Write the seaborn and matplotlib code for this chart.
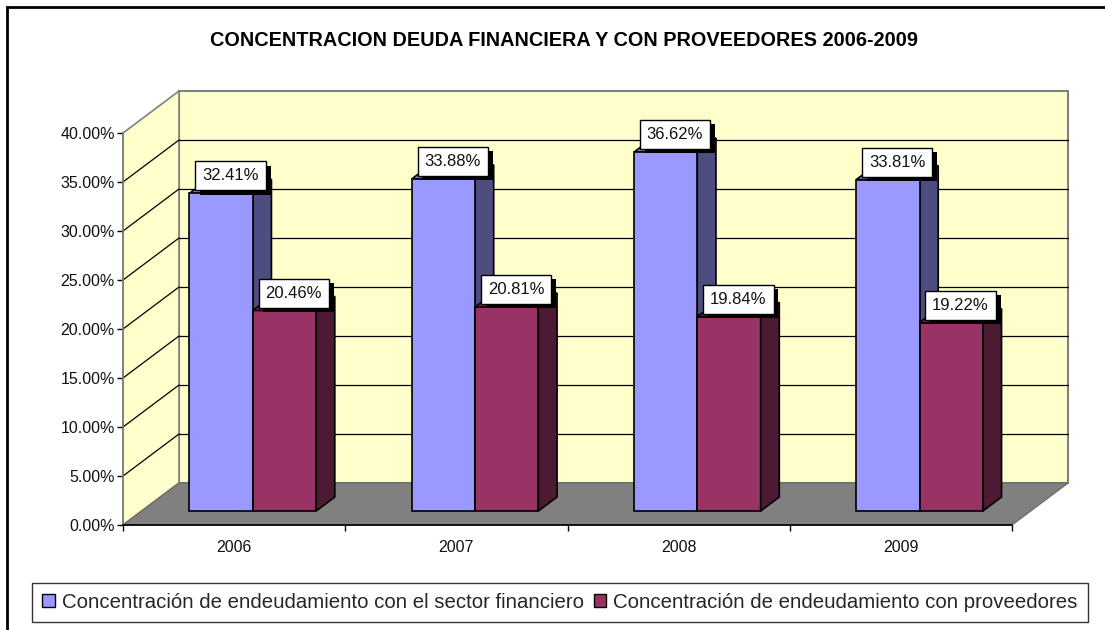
import numpy as np
import pandas as pd
import seaborn as sns
import matplotlib.pyplot as plt
from matplotlib.patches import Polygon, Rectangle, Patch
from matplotlib import patheffects

# ---------------- data ----------------
years = ["2006", "2007", "2008", "2009"]
financiero = [0.3241, 0.3388, 0.3662, 0.3381]
proveedores = [0.2046, 0.2081, 0.1984, 0.1922]
series = ["Concentración de endeudamiento con el sector financiero",
          "Concentración de endeudamiento con proveedores"]
yticks = np.arange(0, 0.4001, 0.05)
title = "CONCENTRACION DEUDA FINANCIERA Y CON PROVEEDORES 2006-2009"

# ---------------- colours ----------------
front_colors = ["#9999FF", "#993366"]
side_colors = ["#4D4D80", "#4D1A33"]
top_colors = ["#7A7ACC", "#7A2952"]
wall_color = "#FFFFCC"
floor_color = "#808080"

sns.set_style("white")
plt.rcParams['font.family'] = ['Liberation Sans', 'DejaVu Sans']

W, H = 1105, 630
fig = plt.figure(figsize=(W / 100, H / 100), dpi=100)
ax_l, ax_r, ax_t, ax_b = 123, 1012, 133, 525
ax = fig.add_axes([ax_l / W, 1 - ax_b / H, (ax_r - ax_l) / W, (ax_b - ax_t) / H])
ax.set_facecolor("none")

# pixel -> data units, for the fake depth
ux = 4.0 / (ax_r - ax_l)
uy = 0.40 / (ax_b - ax_t)
DX, DY = 56 * ux, 42 * uy   # full depth of the box
bx, by = DX / 3, DY / 3     # bars sit a third deep, a third thick

df = pd.DataFrame({"year": years * 2,
                   "valor": financiero + proveedores,
                   "serie": [series[0]] * 4 + [series[1]] * 4})
sns.barplot(data=df, x="year", y="valor", hue="serie", palette=front_colors,
            width=0.57, edgecolor="black", linewidth=1.2, saturation=1,
            legend=False, ax=ax)
ax.set_xlim(-0.5, 3.5)
ax.set_ylim(0, 0.40)
ax.set_xlabel("")
ax.set_ylabel("")

# ---------------- walls and floor ----------------
x0w, x1w = -0.5, 3.5
side = Polygon([(x0w, 0), (x0w, 0.40), (x0w + DX, 0.40 + DY), (x0w + DX, DY)],
               fc=wall_color, ec="#808080", lw=1.2, clip_on=False, zorder=0.5)
back = Polygon([(x0w + DX, DY), (x0w + DX, 0.40 + DY), (x1w + DX, 0.40 + DY), (x1w + DX, DY)],
               fc=wall_color, ec="#808080", lw=1.5, clip_on=False, zorder=0.4)
floor = Polygon([(x0w, 0), (x1w, 0), (x1w + DX, DY), (x0w + DX, DY)],
                fc=floor_color, ec="#6E6E6E", lw=1, clip_on=False, zorder=0.6)
for p in (back, side, floor):
    ax.add_patch(p)

for v in yticks[1:-1]:
    ax.plot([x0w, x0w + DX], [v, v + DY], color="black", lw=0.9, zorder=0.7, clip_on=False)
    ax.plot([x0w + DX, x1w + DX], [v + DY, v + DY], color="black", lw=0.9, zorder=0.7, clip_on=False)

# ---------------- 3D bars ----------------
for k, cont in enumerate(ax.containers):
    for p in cont.patches:
        x0 = p.get_x() + bx
        p.set_x(x0)
        p.set_y(by)
        w, h = p.get_width(), p.get_height()
        p.set_zorder(4)
        side_face = Polygon([(x0 + w, by), (x0 + w, by + h), (x0 + w + bx, 2 * by + h), (x0 + w + bx, 2 * by)],
                            fc=side_colors[k], ec="black", lw=1.2, zorder=3 + 1.5 * k)
        top_face = Polygon([(x0, by + h), (x0 + w, by + h), (x0 + w + bx, 2 * by + h), (x0 + bx, 2 * by + h)],
                           fc=top_colors[k], ec="black", lw=1.2, zorder=3 + 1.5 * k)
        ax.add_patch(side_face)
        ax.add_patch(top_face)
        ann = ax.annotate(f"{h * 100:.2f}%", xy=(x0 + w / 2 + bx / 2, by + h + by / 2),
                          xytext=(0, 7.5), textcoords="offset points", ha="center", va="center",
                          fontsize=12, color="#111111", zorder=10, annotation_clip=False,
                          bbox=dict(boxstyle="square,pad=0.42", fc="white", ec="black", lw=1))
        ann.get_bbox_patch().set_path_effects([
            patheffects.SimplePatchShadow(offset=(3.5, -3), shadow_rgbFace="black", alpha=1),
            patheffects.Normal()])

# ---------------- axes / ticks ----------------
for s in ("top", "right"):
    ax.spines[s].set_visible(False)
ax.spines["left"].set_color("#808080")
ax.spines["left"].set_linewidth(1.2)
ax.spines["left"].set_zorder(0.8)
ax.spines["bottom"].set_color("black")
ax.spines["bottom"].set_linewidth(1.2)

ax.set_yticks(yticks)
ax.set_yticklabels([f"{v * 100:.2f}%" for v in yticks])
ax.tick_params(axis="y", left=True, length=4, width=1, color="black", direction="out",
               pad=2, labelsize=11.5, labelcolor="#111111")
ax.set_xticks(range(len(years)))
ax.set_xticklabels(years)
ax.set_xticks(np.arange(-0.5, 3.6, 1.0), minor=True)
ax.tick_params(axis="x", which="major", bottom=True, length=0, pad=10.5, labelsize=11.5,
               labelcolor="#111111")
ax.tick_params(axis="x", which="minor", bottom=True, length=4, width=1, color="black",
               direction="out")

# ---------------- title, legend, frame ----------------
fig.text(564 / W, 1 - 40 / H, title, ha="center", va="center", fontsize=14.3,
         fontweight="bold", color="black")

handles = [Patch(fc=c, ec="black", lw=1) for c in front_colors]
leg = fig.legend(handles, series, loc="center", bbox_to_anchor=(560 / W, 1 - 602.5 / H),
                 ncol=2, frameon=True, fancybox=False, edgecolor="black", fontsize=14.7,
                 handlelength=0.6, handleheight=0.6, handletextpad=0.35, columnspacing=0.5,
                 borderpad=0.5, borderaxespad=0)
leg.get_frame().set_linewidth(1)

fig.add_artist(Rectangle((7 / W, -0.05), 1.2, 1 - 7 / H + 0.05, transform=fig.transFigure,
                         fill=False, ec="black", lw=2))

fig.savefig("out.png", dpi=100)
